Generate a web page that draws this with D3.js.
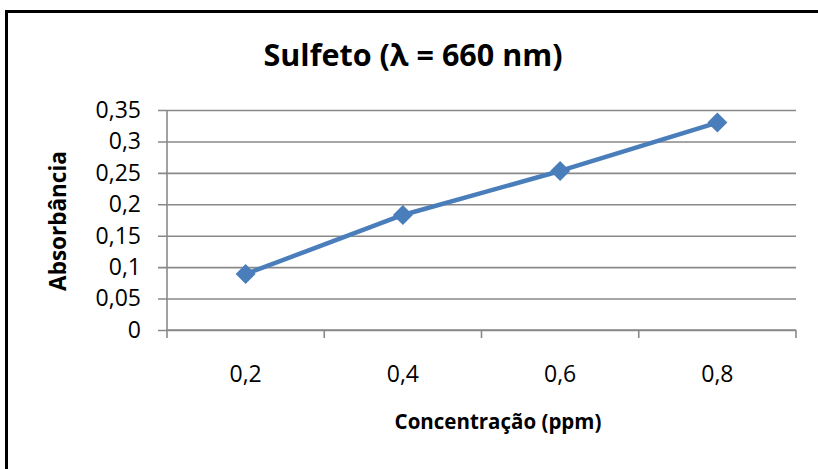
<!DOCTYPE html>
<html>
<head>
<meta charset="utf-8">
<script src="https://cdn.jsdelivr.net/npm/d3@7"></script>
<style>
  html, body { margin: 0; padding: 0; background: #fff; overflow: hidden; }
  svg { display: block; font-family: "Open Sans", "Noto Sans", sans-serif; }
</style>
</head>
<body>
<svg id="chart" width="818" height="469"></svg>
<script>
// Calibration curve: sulfide absorbance at 660 nm
const categories = ["0,2", "0,4", "0,6", "0,8"];
const absorbance = [0.089, 0.183, 0.253, 0.330];
const yTickValues = [0, 0.05, 0.10, 0.15, 0.20, 0.25, 0.30, 0.35];
const titleText = "Sulfeto (λ = 660 nm)";
const xTitleText = "Concentração (ppm)";
const yTitleText = "Absorbância";

const svg = d3.select("#chart");
const plot = { left: 167, right: 796, top: 110, bottom: 330 };

// outer frame: only the top and left sides fall inside the view
svg.append("path")
  .attr("d", "M6.5,600V11.5H900")
  .attr("fill", "none").attr("stroke", "#000").attr("stroke-width", 3);

const x = d3.scaleBand().domain(categories).range([plot.left, plot.right]).padding(0);
const y = d3.scaleLinear().domain([0, 0.35]).range([plot.bottom, plot.top]);

const fmt = d => d3.format(".2~f")(d).replace(".", ",");
const gridColor = "#898989";

// horizontal gridlines with outward ticks
const yAxis = svg.append("g")
  .attr("transform", `translate(${plot.left},0)`)
  .call(d3.axisLeft(y).tickValues(yTickValues).tickFormat(fmt)
    .tickSize(-(plot.right - plot.left)).tickPadding(26));
yAxis.select(".domain").remove();
yAxis.selectAll(".tick line")
  .attr("x1", -9)
  .attr("stroke", gridColor).attr("stroke-width", 1.6);
yAxis.selectAll(".tick text")
  .attr("font-size", 23).attr("fill", "#000")
  .attr("font-family", "'Open Sans', sans-serif");

// vertical axis line
svg.append("line")
  .attr("x1", plot.left).attr("x2", plot.left)
  .attr("y1", plot.top).attr("y2", plot.bottom + 1)
  .attr("stroke", gridColor).attr("stroke-width", 1.6);

// category axis with ticks at band edges
const xAxis = svg.append("g")
  .attr("transform", `translate(0,${plot.bottom})`)
  .call(d3.axisBottom(x).tickSize(0).tickPadding(36));
xAxis.select(".domain")
  .attr("d", `M${plot.left},0H${plot.right}`)
  .attr("stroke", gridColor).attr("stroke-width", 1.6);
xAxis.selectAll(".tick text")
  .attr("font-size", 23).attr("fill", "#000")
  .attr("font-family", "'Open Sans', sans-serif");
const edges = categories.map(c => x(c)).concat([x(categories[categories.length - 1]) + x.bandwidth()]);
xAxis.selectAll(".edge").data(edges).join("line")
  .attr("class", "edge")
  .attr("x1", d => d).attr("x2", d => d)
  .attr("y1", 0).attr("y2", 8)
  .attr("stroke", gridColor).attr("stroke-width", 1.6);

// series line and diamond markers
const pts = categories.map((c, i) => [x(c) + x.bandwidth() / 2, y(absorbance[i])]);
const blue = "#4A7EBB";
svg.append("path")
  .attr("d", d3.line()(pts))
  .attr("fill", "none").attr("stroke", blue)
  .attr("stroke-width", 4.5).attr("stroke-linejoin", "round").attr("stroke-linecap", "round");
svg.selectAll(".marker").data(pts).join("path")
  .attr("class", "marker")
  .attr("d", d3.symbol(d3.symbolSquare, 200))
  .attr("transform", d => `translate(${d[0]},${d[1]}) rotate(45)`)
  .attr("fill", blue);

// titles
svg.append("text")
  .attr("x", 413).attr("y", 66)
  .attr("text-anchor", "middle")
  .attr("font-size", 30.5).attr("font-weight", 700)
  .text(titleText);

svg.append("text")
  .attr("x", 498).attr("y", 429)
  .attr("text-anchor", "middle")
  .attr("font-size", 20.5).attr("font-weight", 700)
  .text(xTitleText);

svg.append("text")
  .attr("transform", "translate(66,221) rotate(-90)")
  .attr("text-anchor", "middle")
  .attr("font-size", 22.5).attr("font-weight", 700)
  .text(yTitleText);
</script>
</body>
</html>
